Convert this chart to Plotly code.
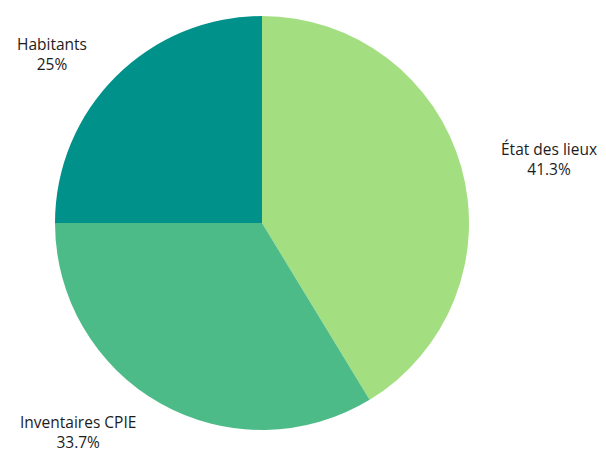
import plotly.graph_objects as go

# Share of each data source
categories = ["État des lieux", "Inventaires CPIE", "Habitants"]
values = [41.3, 33.7, 25]
colors = ["#a3de80", "#4dbb87", "#00918a"]

W, H = 606, 452
cx, cy, r = 262, 223, 207

# Label block centres in pixels (x, y)
label_pos = [(549, 159), (78, 432), (52, 54)]

fig = go.Figure(
    go.Pie(
        labels=categories,
        values=values,
        marker=dict(colors=colors, line=dict(width=0)),
        sort=False,
        direction="clockwise",
        rotation=0,
        textinfo="none",
        hoverinfo="label+percent",
        domain=dict(
            x=[(cx - r) / W, (cx + r) / W],
            y=[1 - (cy + r) / H, 1 - (cy - r) / H],
        ),
        showlegend=False,
    )
)

font = dict(family="Open Sans", size=15.5, color="#1c1c1c", weight=500)
for name, v, (x, y) in zip(categories, values, label_pos):
    fig.add_annotation(
        x=x / W, y=1 - y / H, xref="paper", yref="paper",
        text=f"{name}<br>{v:g}%", showarrow=False,
        xanchor="center", yanchor="middle", align="center",
        borderpad=0, font=font,
    )

fig.update_layout(
    width=W, height=H,
    margin=dict(l=0, r=0, t=0, b=0),
    paper_bgcolor="white",
    plot_bgcolor="white",
)

fig.write_html("out.html")
